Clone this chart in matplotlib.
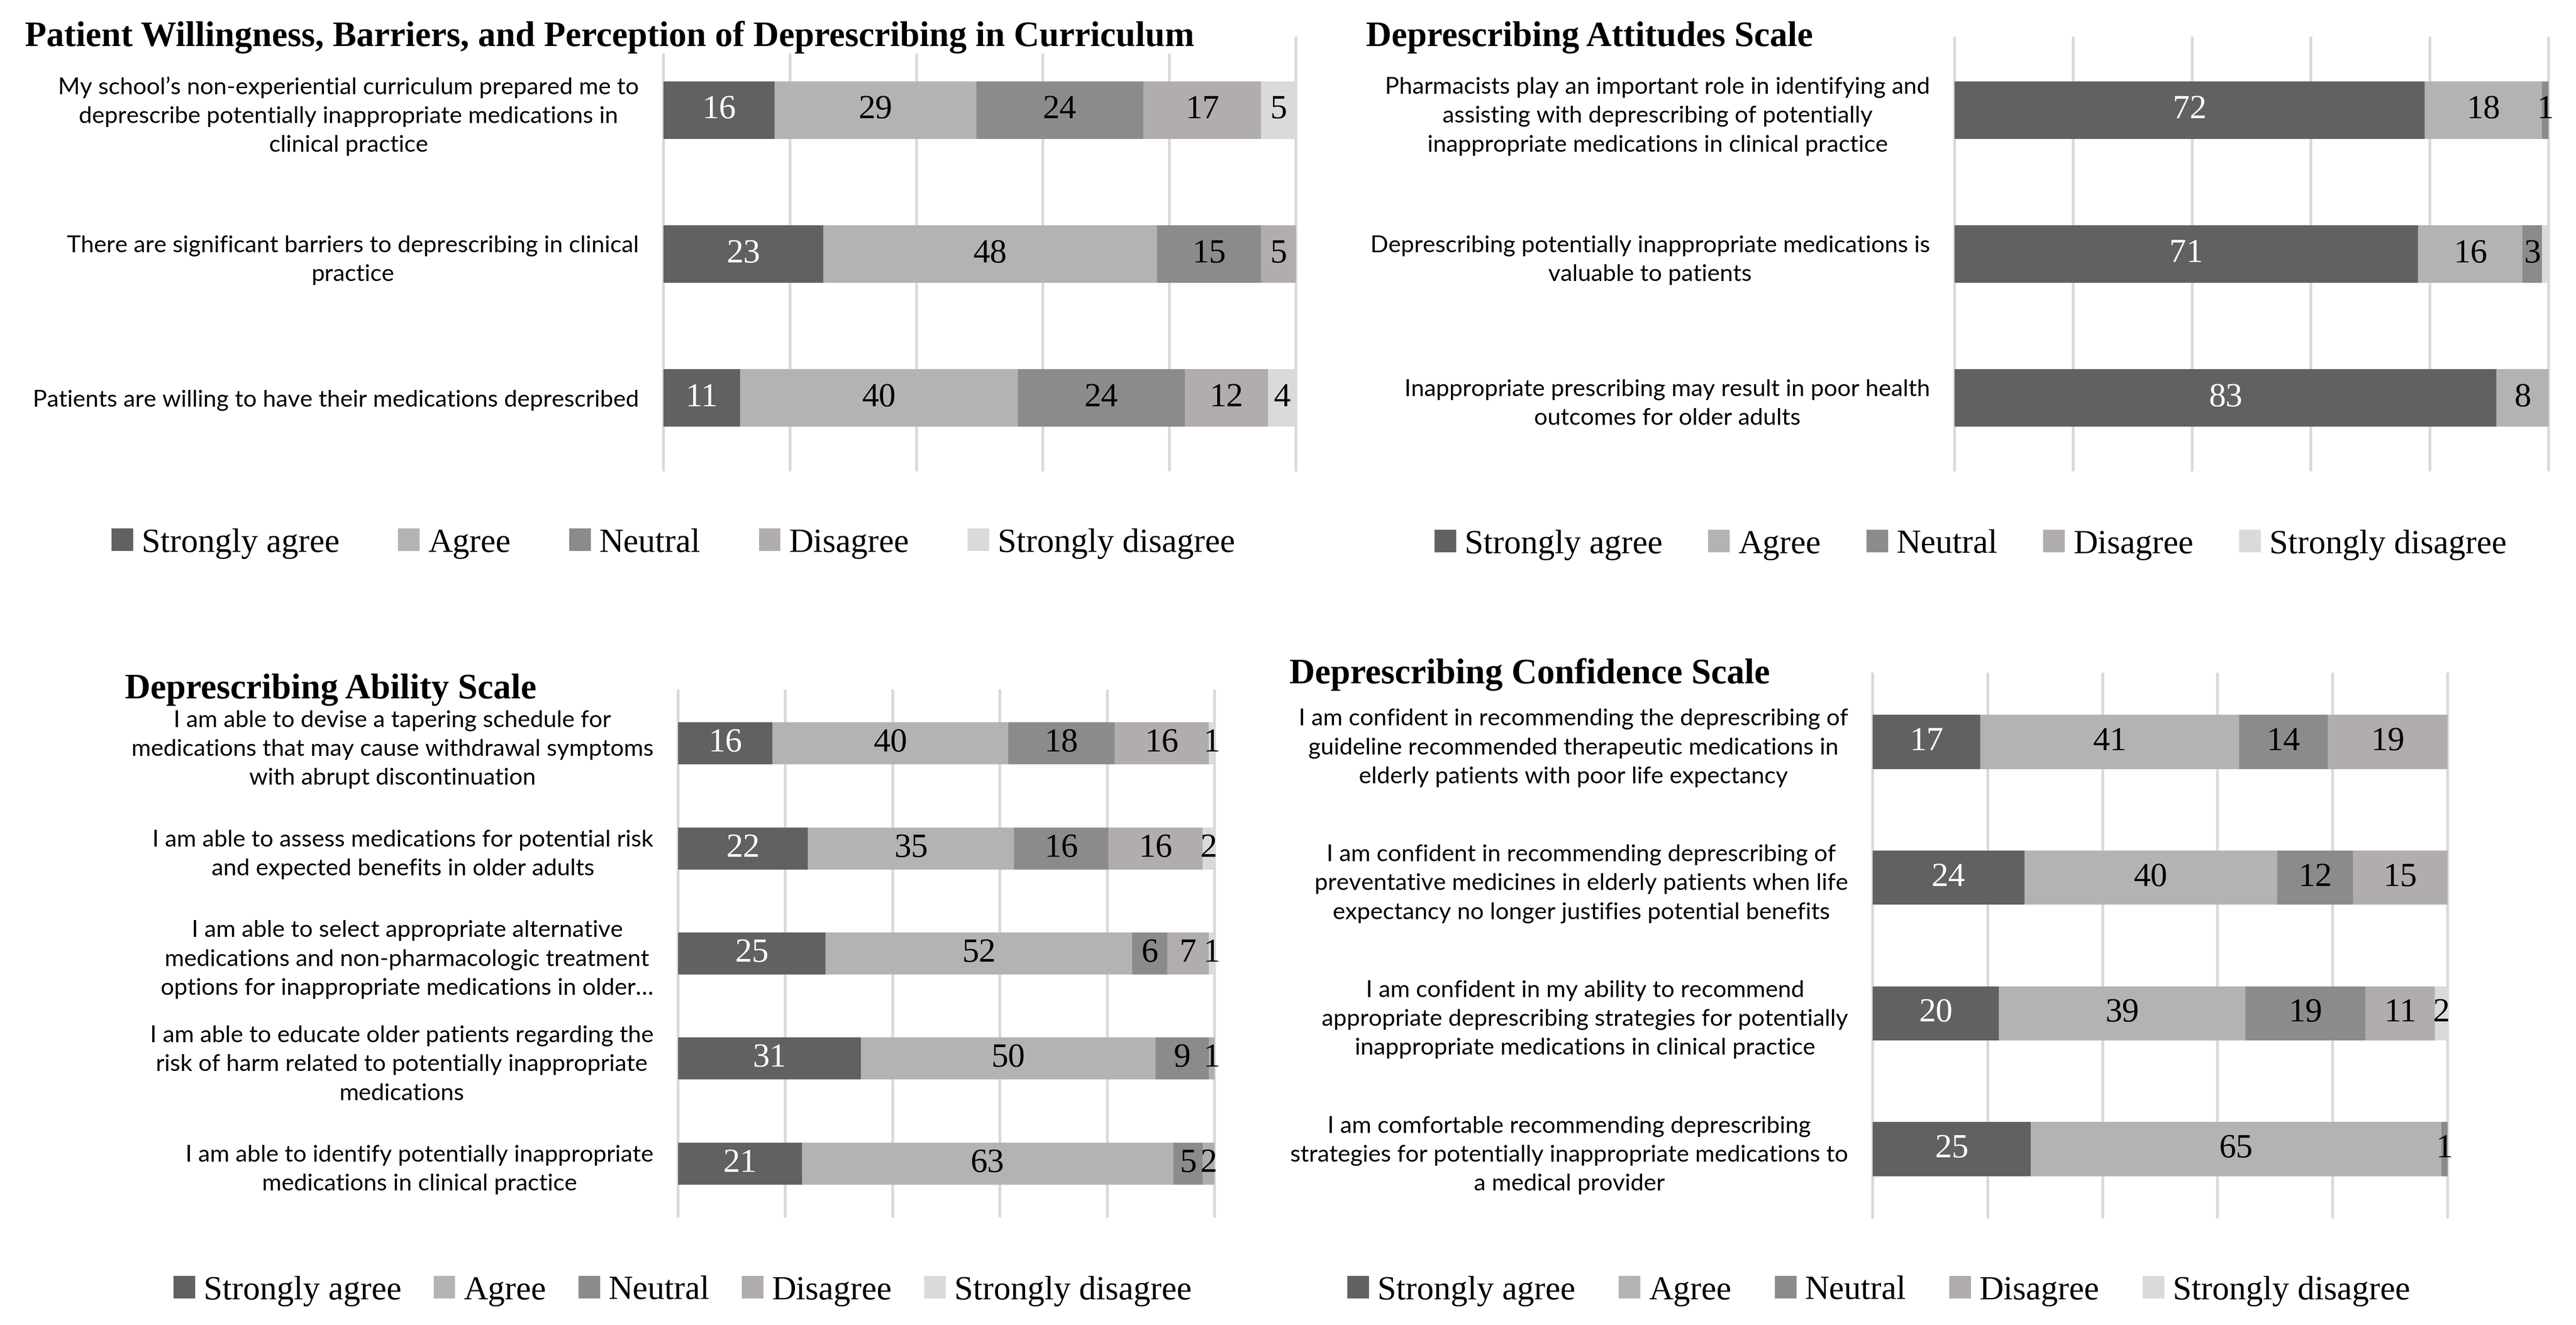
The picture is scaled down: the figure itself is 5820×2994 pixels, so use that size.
import numpy as np
import matplotlib
matplotlib.use('Agg')
import matplotlib.pyplot as plt
from matplotlib.patches import Patch

levels = ['Strongly agree', 'Agree', 'Neutral', 'Disagree', 'Strongly disagree']
colors = ['#616161', '#b3b3b3', '#8b8b8b', '#b0adac', '#dadada']
text_colors = ['white', 'black', 'black', 'black', 'black']

# panel 1: patient willingness / barriers / curriculum
p1_title = 'Patient Willingness, Barriers, and Perception of Deprescribing in Curriculum'
p1_items = ['My school\u2019s non-experiential curriculum prepared me to\ndeprescribe potentially inappropriate medications in\nclinical practice',
            'There are significant barriers to deprescribing in clinical\npractice',
            'Patients are willing to have their medications deprescribed']
p1_sa = [16, 23, 11]
p1_ag = [29, 48, 40]
p1_ne = [24, 15, 24]
p1_di = [17, 5, 12]
p1_sd = [5, 0, 4]

# panel 2: attitudes
p2_title = 'Deprescribing Attitudes Scale'
p2_items = ['Pharmacists play an important role in identifying and\nassisting with deprescribing of potentially\ninappropriate medications in clinical practice',
            'Deprescribing potentially inappropriate medications is\nvaluable to patients',
            'Inappropriate prescribing may result in poor health\noutcomes for older adults']
p2_sa = [72, 71, 83]
p2_ag = [18, 16, 8]
p2_ne = [1, 3, 0]
p2_di = [0, 0, 0]
p2_sd = [0, 1, 0]

# panel 3: ability
p3_title = 'Deprescribing Ability Scale'
p3_items = ['I am able to devise a tapering schedule for\nmedications that may cause withdrawal symptoms\nwith abrupt discontinuation',
            'I am able to assess medications for potential risk\nand expected benefits in older adults',
            'I am able to select appropriate alternative\nmedications and non-pharmacologic treatment\noptions for inappropriate medications in older\u2026',
            'I am able to educate older patients regarding the\nrisk of harm related to potentially inappropriate\nmedications',
            'I am able to identify potentially inappropriate\nmedications in clinical practice']
p3_sa = [16, 22, 25, 31, 21]
p3_ag = [40, 35, 52, 50, 63]
p3_ne = [18, 16, 6, 9, 5]
p3_di = [16, 16, 7, 1, 2]
p3_sd = [1, 2, 1, 0, 0]

# panel 4: confidence
p4_title = 'Deprescribing Confidence Scale'
p4_items = ['I am confident in recommending the deprescribing of\nguideline recommended therapeutic medications in\nelderly patients with poor life expectancy',
            'I am confident in recommending deprescribing of\npreventative medicines in elderly patients when life\nexpectancy no longer justifies potential benefits',
            'I am confident in my ability to recommend\nappropriate deprescribing strategies for potentially\ninappropriate medications in clinical practice',
            'I am comfortable recommending deprescribing\nstrategies for potentially inappropriate medications to\na medical provider']
p4_sa = [17, 24, 20, 25]
p4_ag = [41, 40, 39, 65]
p4_ne = [14, 12, 19, 1]
p4_di = [19, 15, 11, 0]
p4_sd = [0, 0, 2, 0]

W, H = 5820, 2994
fig = plt.figure(figsize=(W / 100, H / 100), dpi=100)

serif = 'Liberation Serif'
sans = 'Lato'


def px_axes(x0, x1, y0, y1):
    return fig.add_axes([x0 / W, 1 - y1 / H, (x1 - x0) / W, (y1 - y0) / H])


def draw_panel(ax, items, series, hide=()):
    data = np.array(series, dtype=float)  # levels x items
    totals = data.sum(axis=0)
    pct = data / totals * 100
    n = len(items)
    ypos = np.arange(n)[::-1]
    left = np.zeros(n)
    for k in range(len(levels)):
        ax.barh(ypos, pct[k], left=left, height=0.40, color=colors[k],
                label=levels[k], zorder=2)
        for i in range(n):
            if data[k, i] > 0 and (k, i) not in hide:
                ax.text(left[i] + pct[k, i] / 2, ypos[i], '%d' % data[k, i],
                        ha='center', va='center', fontsize=55, family=serif,
                        color=text_colors[k], zorder=3)
        left = left + pct[k]
    ax.set_xlim(0, 100)
    ax.set_ylim(-0.5, n - 0.5)
    ax.set_xticks(np.arange(0, 101, 20))
    ax.set_xticklabels([])
    ax.set_yticks(ypos)
    ax.set_yticklabels(items, fontsize=38.5, family=sans, multialignment='center',
                       linespacing=1.48)
    ax.tick_params(axis='both', length=0)
    ax.tick_params(axis='y', pad=40)
    for s in ax.spines.values():
        s.set_visible(False)
    ax.grid(axis='x', color='#d9d9d9', linewidth=4.5, zorder=0)
    ax.set_axisbelow(True)
    for line in ax.get_xgridlines():
        line.set_clip_on(False)


def add_legend(cx, cy, colsp):
    handles = [Patch(facecolor=c, edgecolor='none') for c in colors]
    fig.legend(handles, levels, loc='center', bbox_to_anchor=(cx / W, 1 - cy / H),
               ncol=5, frameon=False, prop={'family': serif, 'size': 55},
               handlelength=0.64, handleheight=0.64, handletextpad=0.25,
               columnspacing=colsp)


ax1 = px_axes(1499, 2928, 86, 1062)
draw_panel(ax1, p1_items, [p1_sa, p1_ag, p1_ne, p1_di, p1_sd])
ax2 = px_axes(4416, 5758, 86, 1062)
draw_panel(ax2, p2_items, [p2_sa, p2_ag, p2_ne, p2_di, p2_sd], hide={(4, 1)})
ax3 = px_axes(1532, 2744, 1561, 2748)
draw_panel(ax3, p3_items, [p3_sa, p3_ag, p3_ne, p3_di, p3_sd])
ax4 = px_axes(4231, 5530, 1523, 2750)
draw_panel(ax4, p4_items, [p4_sa, p4_ag, p4_ne, p4_di, p4_sd])

title_kw = dict(fontsize=57.5, family=serif, fontweight='bold', ha='left', va='baseline')
fig.text(56 / W, 1 - 104 / H, p1_title,
         bbox=dict(facecolor='white', edgecolor='none', pad=0), **title_kw)
fig.text(3086 / W, 1 - 104 / H, p2_title, **title_kw)
fig.text(282 / W, 1 - 1578 / H, p3_title, **title_kw)
fig.text(2913 / W, 1 - 1544 / H, p4_title, **title_kw)

add_legend(1521, 1228, 1.73)
add_legend(4452, 1231, 1.35)
add_legend(1542, 2917, 0.95)
add_legend(4245, 2917, 1.28)

fig.savefig('out.png', dpi=100, facecolor='white')
